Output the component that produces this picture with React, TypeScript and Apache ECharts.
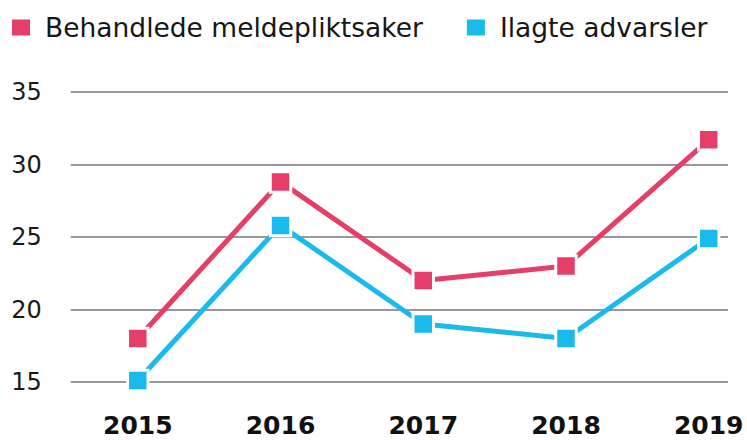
import React, { useEffect, useRef } from "react";
import * as echarts from "echarts";

const years = [2015, 2016, 2017, 2018, 2019];
const seriesNames = ["Behandlede meldepliktsaker", "Ilagte advarsler"];
const behandlede = [18, 28.8, 22, 23, 31.7];
const advarsler = [15.1, 25.8, 19, 18, 24.9];
const yTicks = [15, 20, 25, 30, 35];

const RED = "#e53e68";
const BLUE = "#1bbaec";
const FONT = "DejaVu Sans";

export default function App() {
  const ref = useRef<HTMLDivElement>(null);
  useEffect(() => {
    if (!ref.current) return;
    const chart = echarts.init(ref.current, null, { renderer: "svg" });
    const mk = (name: string, vals: number[], color: string) => ({
      name,
      type: "line",
      data: years.map((y, i) => [y, vals[i]]),
      symbol: "rect",
      symbolSize: 20.5,
      itemStyle: { color, borderColor: "#ffffff", borderWidth: 3 },
      lineStyle: { color, width: 5 },
      emphasis: { disabled: true },
      z: 3,
    });
    chart.setOption({
      animation: false,
      backgroundColor: "#ffffff",
      legend: {
        left: 7,
        top: 9,
        itemWidth: 18,
        itemHeight: 16,
        itemGap: 44,
        icon: "rect",
        data: [
          { name: seriesNames[0], itemStyle: { color: RED, borderWidth: 0 } },
          { name: seriesNames[1], itemStyle: { color: BLUE, borderWidth: 0 } },
        ],
        textStyle: {
          fontFamily: FONT,
          fontSize: 26.5,
          color: "#161616",
          padding: [0, 0, 0, 10],
        },
        selectedMode: false,
      },
      grid: { left: 70.7, right: 19, top: 92, bottom: 58 },
      xAxis: {
        type: "value",
        min: 2014.53,
        max: 2019.135,
        axisLine: { show: false },
        axisTick: { show: false },
        splitLine: { show: false },
        axisLabel: {
          customValues: years,
          formatter: (v: number) => String(v),
          fontFamily: FONT,
          fontSize: 25,
          fontWeight: "bold",
          color: "#111111",
          margin: 31,
        },
      },
      yAxis: {
        type: "value",
        min: yTicks[0],
        max: yTicks[yTicks.length - 1],
        interval: 5,
        axisLine: { show: false },
        axisTick: { show: false },
        splitLine: { show: true, lineStyle: { color: "#74757e", width: 1.5 } },
        axisLabel: {
          fontFamily: FONT,
          fontSize: 24,
          color: "#1a1a1a",
          margin: 29,
        },
      },
      series: [mk(seriesNames[0], behandlede, RED), mk(seriesNames[1], advarsler, BLUE)],
    });
    return () => chart.dispose();
  }, []);
  return (
    <div
      ref={ref}
      style={{ position: "fixed", left: 0, top: 0, width: 747, height: 440 }}
    />
  );
}
